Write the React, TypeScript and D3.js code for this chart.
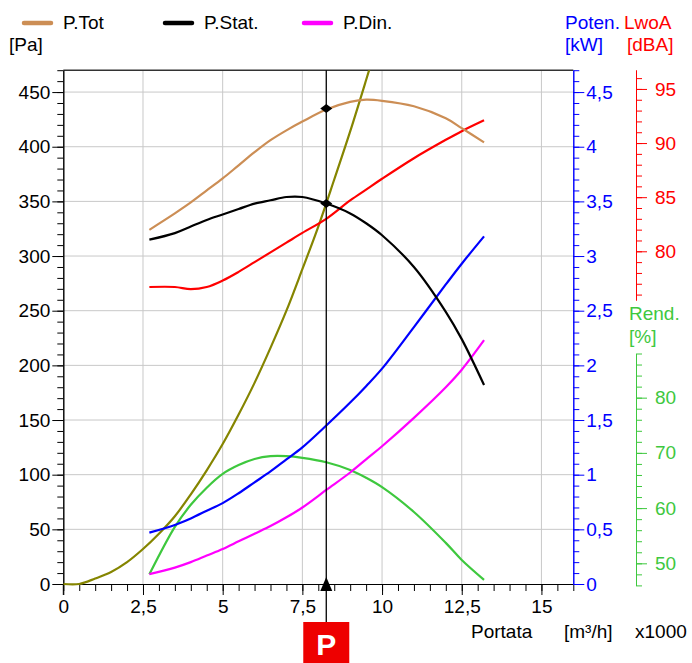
import React, { Component } from 'react'
import * as d3 from 'd3'

const flow = [2.7, 3.5, 4, 4.5, 5, 5.5, 6, 6.5, 7, 7.5, 8.25, 9, 9.5, 10, 11, 12, 12.5, 13.2]
// pressioni [Pa]
const pTot = [324, 339, 349, 360, 371, 383, 395, 406, 415, 423, 434, 441, 443, 442, 437, 426, 417, 404]
const pStat = [315, 321, 327, 333, 338, 343, 348, 351, 354, 354, 348, 339, 330, 319, 290, 249, 224, 182]
const pDin = [9, 15, 20, 26, 32, 39, 46, 53, 61, 70, 86, 102, 114, 126, 152, 180, 196, 223]
// potenza assorbita [kW]
const power = [0.47, 0.54, 0.6, 0.67, 0.74, 0.83, 0.93, 1.03, 1.14, 1.25, 1.45, 1.66, 1.81, 1.97, 2.35, 2.74, 2.93, 3.18]
// rumorosità LwA [dBA]
const noise = [76.7, 76.7, 76.5, 76.7, 77.3, 78.1, 79.0, 79.9, 80.8, 81.7, 83.0, 84.7, 85.7, 86.7, 88.6, 90.3, 91.1, 92.1]
// rendimento [%]
const rend = [48, 56.6, 60.6, 63.7, 66.2, 67.8, 68.9, 69.4, 69.4, 69.1, 68.3, 66.9, 65.5, 63.8, 59.3, 53.7, 50.6, 47]

// curva dell'impianto
const sysFlow = [0, 0.5, 1, 1.5, 2, 2.5, 3, 3.5, 4, 4.5, 5, 5.5, 6, 6.5, 7, 7.5, 8, 8.5, 9, 9.5, 9.8]
const sysPress = [0, 0, 5, 11, 20, 32, 46, 62, 82, 104, 128, 155, 184, 216, 250, 288, 327, 370, 414, 461, 490]

// punto di lavoro
const workFlow = 8.25
const workTot = 435
const workStat = 348

// etichette degli assi
const xTicks = [0, 2.5, 5, 7.5, 10, 12.5, 15]
const paTicks = [0, 50, 100, 150, 200, 250, 300, 350, 400, 450]
const kwTicks = [0, 0.5, 1, 1.5, 2, 2.5, 3, 3.5, 4, 4.5]
const dbTicks = [80, 85, 90, 95]
const rendTicks = [50, 60, 70, 80]

const legend = [
    { name: 'P.Tot', color: '#cc8e55', x: 22 },
    { name: 'P.Stat.', color: '#000000', x: 163 },
    { name: 'P.Din.', color: '#ff00ff', x: 302 },
]

const FONT = "'Liberation Sans', Arial, sans-serif"
const BLUE = '#0000ff'
const RED = '#ff0000'
const GREEN = '#3ec83e'
const OLIVE = '#858500'

const comma = (d: number) => String(d).replace('.', ',')

export default class App extends Component {
    node: HTMLDivElement | null = null

    componentDidMount() {
        // StrictMode monta due volte: ripulisco prima
        d3.select(this.node).selectAll('*').remove()

        const svg = d3.select(this.node)
            .append('svg')
            .attr('width', 692)
            .attr('height', 663)
            .style('display', 'block')
            .style('background', '#fff')
            .attr('font-family', FONT)

        const left = 63.3, right = 573.3, top = 70.2, bottom = 584

        const x = d3.scaleLinear().domain([0, 16]).range([left, right])
        const yPa = d3.scaleLinear().domain([0, 470]).range([bottom, top])
        const yKw = d3.scaleLinear().domain([0, 4.7]).range([bottom, top])
        const yDb = d3.scaleLinear().domain([75.5, 96.75]).range([300, 70])
        const yRend = d3.scaleLinear().domain([46, 88]).range([585.4, 353.5])

        // griglia
        svg.append('g')
            .selectAll('line')
            .data(xTicks.slice(1))
            .enter().append('line')
            .attr('x1', d => x(d)).attr('x2', d => x(d))
            .attr('y1', top).attr('y2', bottom)
            .attr('stroke', '#c8c8c8')
        svg.append('g')
            .selectAll('line')
            .data(paTicks.slice(1))
            .enter().append('line')
            .attr('x1', left).attr('x2', right)
            .attr('y1', d => yPa(d)).attr('y2', d => yPa(d))
            .attr('stroke', '#c8c8c8')

        // bordo superiore
        svg.append('line')
            .attr('x1', left).attr('x2', right)
            .attr('y1', top).attr('y2', top)
            .attr('stroke', '#333').attr('stroke-width', 1.5)

        const styleAxis = (g: any, color: string) => {
            g.attr('font-family', FONT).attr('font-size', 19)
            g.selectAll('path, line').attr('stroke', color)
            g.selectAll('text').attr('fill', color)
        }

        // asse x
        svg.append('g')
            .attr('transform', `translate(0,${bottom})`)
            .call(d3.axisBottom(x).tickValues(d3.range(0, 33).map(i => i / 2)).tickSize(7).tickSizeOuter(0).tickFormat(() => ''))
            .call((g: any) => styleAxis(g, '#000'))
        svg.append('g')
            .attr('transform', `translate(0,${bottom})`)
            .call(d3.axisBottom(x).tickValues(xTicks).tickSize(11).tickSizeOuter(0).tickPadding(5).tickFormat((d: any) => comma(d)))
            .call((g: any) => styleAxis(g, '#000'))

        // asse pressione
        svg.append('g')
            .attr('transform', `translate(${left},0)`)
            .call(d3.axisLeft(yPa).tickValues(d3.range(0, 48).map(i => i * 10)).tickSize(6).tickSizeOuter(0).tickFormat(() => ''))
            .call((g: any) => styleAxis(g, '#000'))
        svg.append('g')
            .attr('transform', `translate(${left},0)`)
            .call(d3.axisLeft(yPa).tickValues(paTicks).tickSize(11).tickSizeOuter(0).tickPadding(2))
            .call((g: any) => styleAxis(g, '#000'))
        svg.append('line')
            .attr('x1', left).attr('x2', left)
            .attr('y1', bottom).attr('y2', bottom + 11)
            .attr('stroke', '#000')

        // asse potenza
        svg.append('g')
            .attr('transform', `translate(${right},0)`)
            .call(d3.axisRight(yKw).tickValues(d3.range(0, 48).map(i => i / 10)).tickSize(6).tickSizeOuter(0).tickFormat(() => ''))
            .call((g: any) => styleAxis(g, BLUE))
        svg.append('g')
            .attr('transform', `translate(${right},0)`)
            .call(d3.axisRight(yKw).tickValues(kwTicks).tickSize(11).tickSizeOuter(0).tickPadding(2).tickFormat((d: any) => comma(d)))
            .call((g: any) => styleAxis(g, BLUE))

        // asse rumore
        svg.append('g')
            .attr('transform', 'translate(636,0)')
            .call(d3.axisRight(yDb).tickValues(d3.range(76, 97)).tickSize(6).tickSizeOuter(0).tickFormat(() => ''))
            .call((g: any) => styleAxis(g, RED))
        svg.append('g')
            .attr('transform', 'translate(636,0)')
            .call(d3.axisRight(yDb).tickValues(dbTicks).tickSize(11).tickSizeOuter(0).tickPadding(8))
            .call((g: any) => styleAxis(g, RED))

        // asse rendimento
        svg.append('g')
            .attr('transform', 'translate(636,0)')
            .call(d3.axisRight(yRend).tickValues(d3.range(46, 89, 2)).tickSize(6).tickSizeOuter(0).tickFormat(() => ''))
            .call((g: any) => styleAxis(g, GREEN))
        svg.append('g')
            .attr('transform', 'translate(636,0)')
            .call(d3.axisRight(yRend).tickValues(rendTicks).tickSize(11).tickSizeOuter(0).tickPadding(8))
            .call((g: any) => styleAxis(g, GREEN))

        // area di clip
        svg.append('clipPath').attr('id', 'plot')
            .append('rect')
            .attr('x', left).attr('y', top)
            .attr('width', right - left).attr('height', bottom - top + 2)

        const plot = svg.append('g').attr('clip-path', 'url(#plot)')

        const drawLine = (xs: number[], ys: number[], y: any, color: string) => {
            const line = d3.line<number>()
                .x((d, i) => x(xs[i]))
                .y(d => y(d))
                .curve(d3.curveCatmullRom.alpha(0.5))
            plot.append('path')
                .attr('d', line(ys))
                .attr('fill', 'none')
                .attr('stroke', color)
                .attr('stroke-width', 2.2)
        }

        drawLine(sysFlow, sysPress, yPa, OLIVE)
        drawLine(flow, rend, yRend, GREEN)
        drawLine(flow, power, yKw, BLUE)
        drawLine(flow, pDin, yPa, '#ff00ff')
        drawLine(flow, noise, yDb, RED)
        drawLine(flow, pStat, yPa, '#000')
        drawLine(flow, pTot, yPa, legend[0].color)

        // punto di lavoro
        const wx = x(workFlow)
        svg.append('line')
            .attr('x1', wx).attr('x2', wx)
            .attr('y1', top).attr('y2', 622)
            .attr('stroke', '#000').attr('stroke-width', 1.3)
        svg.append('path')
            .attr('d', `M${wx},577 L${wx + 6},591 L${wx - 6},591 Z`)
            .attr('fill', '#000')
        svg.selectAll('.diamond')
            .data([workTot, workStat])
            .enter().append('path')
            .attr('d', d => `M${wx - 6},${yPa(d)} L${wx},${yPa(d) - 4.5} L${wx + 6},${yPa(d)} L${wx},${yPa(d) + 4.5} Z`)
            .attr('fill', '#000')

        svg.append('rect')
            .attr('x', wx - 23).attr('y', 622)
            .attr('width', 46).attr('height', 45)
            .attr('fill', '#ee0000')
        svg.append('text')
            .attr('x', wx).attr('y', 655)
            .attr('text-anchor', 'middle')
            .attr('font-size', 30).attr('font-weight', 'bold')
            .attr('fill', '#fff')
            .text('P')

        // legenda
        const leg = svg.append('g').attr('font-size', 19)
        legend.forEach(l => {
            leg.append('line')
                .attr('x1', l.x + 2).attr('x2', l.x + 29)
                .attr('y1', 23).attr('y2', 23)
                .attr('stroke', l.color).attr('stroke-width', 4.5)
                .attr('stroke-linecap', 'round')
            leg.append('text')
                .attr('x', l.x + 41).attr('y', 29)
                .text(l.name)
        })

        const label = (tx: number, ty: number, s: string, color: string) => {
            svg.append('text')
                .attr('x', tx).attr('y', ty)
                .attr('font-size', 19)
                .attr('fill', color)
                .text(s)
        }
        label(9, 51, '[Pa]', '#000')
        label(565, 29, 'Poten.', BLUE)
        label(565, 51, '[kW]', BLUE)
        label(624, 29, 'LwoA', RED)
        label(627, 51, '[dBA]', RED)
        label(629, 320, 'Rend.', GREEN)
        label(629, 343, '[%]', GREEN)
        label(471, 638, 'Portata', '#000')
        label(564, 638, '[m³/h]', '#000')
        label(635, 638, 'x1000', '#000')
    }

    render() {
        return (
            <div
                ref={el => { this.node = el }}
                style={{ position: 'absolute', left: 0, top: 0, width: 692, height: 663 }}
            ></div>
        )
    }
}
